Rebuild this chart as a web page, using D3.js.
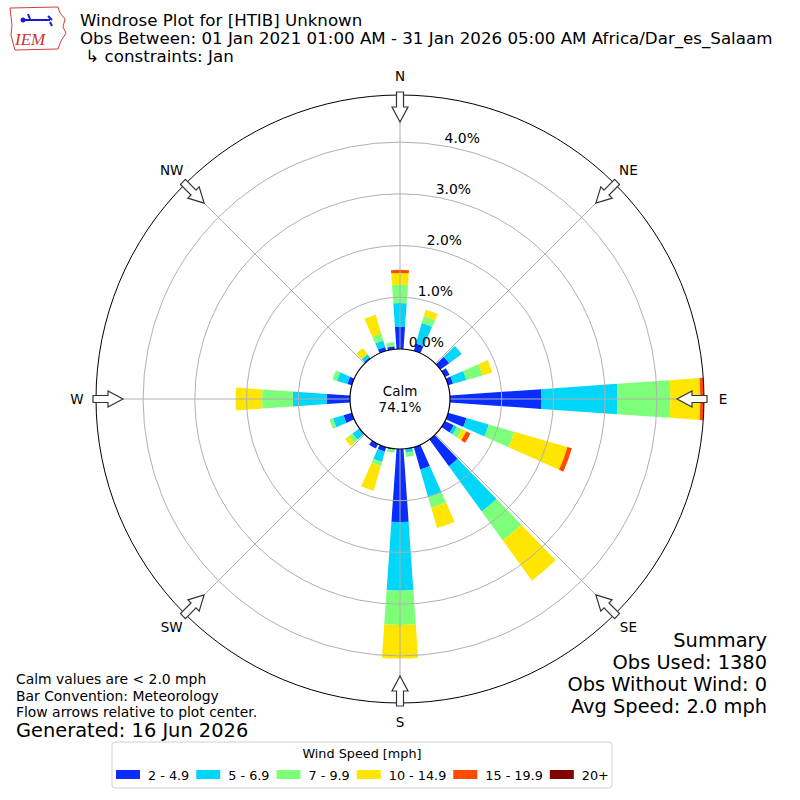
<!DOCTYPE html>
<html>
<head>
<meta charset="utf-8">
<script src="https://cdn.jsdelivr.net/npm/d3@7"></script>
<style>
  body { margin: 0; background: #fff; }
  svg text { font-family: "DejaVu Sans", sans-serif; fill: #000; }
</style>
</head>
<body>
<div id="chart"></div>
<script>
// wind direction bins (degrees, 10 deg steps, only non-empty ones)
const directions = [0, 20, 50, 60, 70, 90, 110, 120, 140, 160, 170, 180, 190, 200, 210, 230, 250, 270, 290, 320, 340, 350];

// percent of observations per speed bin, aligned with directions
const speed2to5   = [0.43, 0.15, 0.21, 0.10, 0.10, 1.77, 0.37, 0.19, 0.64, 0.45, 0.01, 1.41, 0.02, 0.09, 0.10, 0.02, 0.17, 0.45, 0.09, 0.03, 0.08, 0.06];
const speed5to7   = [0.46, 0.41, 0.30, 0.00, 0.27, 1.47, 0.45, 0.07, 1.08, 0.56, 0.07, 1.33, 0.00, 0.21, 0.00, 0.15, 0.21, 0.66, 0.21, 0.07, 0.13, 0.00];
const speed7to10  = [0.35, 0.14, 0.00, 0.00, 0.32, 1.02, 0.51, 0.11, 0.69, 0.21, 0.08, 0.66, 0.06, 0.08, 0.00, 0.09, 0.07, 0.59, 0.09, 0.00, 0.14, 0.08];
const speed10to15 = [0.23, 0.13, 0.00, 0.00, 0.20, 0.58, 1.07, 0.09, 0.96, 0.41, 0.00, 0.65, 0.00, 0.50, 0.00, 0.09, 0.00, 0.51, 0.00, 0.15, 0.38, 0.00];
const speed15to20 = [0.06, 0.00, 0.00, 0.00, 0.00, 0.07, 0.09, 0.09, 0.00, 0.00, 0.00, 0.00, 0.00, 0.00, 0.00, 0.00, 0.00, 0.00, 0.00, 0.00, 0.00, 0.00];
const speed20plus = [0, 0, 0, 0, 0, 0, 0, 0, 0, 0, 0, 0, 0, 0, 0, 0, 0, 0, 0, 0, 0, 0];

const speedLabels = ["2 - 4.9", "5 - 6.9", "7 - 9.9", "10 - 14.9", "15 - 19.9", "20+"];
const speedColors = ["#0a2dff", "#00d5fa", "#7dff7a", "#ffe600", "#ff4a00", "#800000"];
const ringTicks = [0, 1, 2, 3, 4];
const compass = [["N", 0], ["NE", 45], ["E", 90], ["SE", 135], ["S", 180], ["SW", 225], ["W", 270], ["NW", 315]];
const calmPct = 74.1;

const titleLines = [
  "Windrose Plot for [HTIB] Unknown",
  "Obs Between: 01 Jan 2021 01:00 AM - 31 Jan 2026 05:00 AM Africa/Dar_es_Salaam",
  " \u21b3 constraints: Jan"
];
const noteLines = ["Calm values are < 2.0 mph", "Bar Convention: Meteorology", "Flow arrows relative to plot center."];
const summaryLines = ["Summary", "Obs Used: 1380", "Obs Without Wind: 0", "Avg Speed: 2.0 mph"];

const W = 800, H = 800;
const cx = 400, cy = 399;
const calmR = 50, outerR = 304;

const svg = d3.select("#chart").append("svg")
  .attr("width", W).attr("height", H);

const rad = deg => deg * Math.PI / 180;

// stacked rows
const keys = ["s0", "s1", "s2", "s3", "s4", "s5"];
const series = [speed2to5, speed5to7, speed7to10, speed10to15, speed15to20, speed20plus];
const rows = directions.map((d, i) => {
  const row = { dir: d };
  keys.forEach((k, j) => row[k] = series[j][i]);
  return row;
});
const stacked = d3.stack().keys(keys)(rows);
const maxTotal = d3.max(rows, r => d3.sum(keys, k => r[k]));

const rScale = d3.scaleLinear().domain([0, maxTotal]).range([calmR, outerR]);

const plot = svg.append("g").attr("transform", `translate(${cx},${cy})`);

// bars
const halfWidth = 4;
const arc = d3.arc()
  .innerRadius(d => rScale(d[0]))
  .outerRadius(d => rScale(d[1]))
  .startAngle(d => rad(d.data.dir - halfWidth))
  .endAngle(d => rad(d.data.dir + halfWidth));

plot.selectAll("g.layer")
  .data(stacked)
  .enter().append("g")
  .attr("class", "layer")
  .attr("fill", (d, i) => speedColors[i])
  .selectAll("path")
  .data(d => d.filter(s => s[1] - s[0] > 0))
  .enter().append("path")
  .attr("d", arc);

// grid: rings and spokes on top of bars
plot.selectAll("circle.ring")
  .data(ringTicks.filter(t => t > 0))
  .enter().append("circle")
  .attr("class", "ring")
  .attr("r", d => rScale(d))
  .attr("fill", "none")
  .attr("stroke", "#b0b0b0")
  .attr("stroke-width", 1);

plot.selectAll("line.spoke")
  .data(compass)
  .enter().append("line")
  .attr("x1", 0).attr("y1", 0)
  .attr("x2", d => outerR * Math.sin(rad(d[1])))
  .attr("y2", d => -outerR * Math.cos(rad(d[1])))
  .attr("stroke", "#b0b0b0")
  .attr("stroke-width", 1);

// calm circle and outer frame
plot.append("circle").attr("r", calmR)
  .attr("fill", "#fff").attr("stroke", "#000").attr("stroke-width", 1.2);
plot.append("circle").attr("r", outerR)
  .attr("fill", "none").attr("stroke", "#000").attr("stroke-width", 1);

plot.append("text").attr("y", -3).attr("text-anchor", "middle")
  .style("font-size", "13.5px").text("Calm");
plot.append("text").attr("y", 13).attr("text-anchor", "middle")
  .style("font-size", "13.5px").text(`${calmPct.toFixed(1)}%`);

// ring labels
plot.selectAll("text.rlabel")
  .data(ringTicks)
  .enter().append("text")
  .attr("class", "rlabel")
  .attr("x", d => rScale(d) * Math.sin(rad(10)))
  .attr("y", d => -rScale(d) * Math.cos(rad(10)) - 3)
  .style("font-size", "13.9px")
  .text(d => `${d.toFixed(1)}%`);

// flow arrows pointing to the center
const arrowPath = "M0,-277 L-8,-292 L-3.5,-292 L-3.5,-307 L3.5,-307 L3.5,-292 L8,-292 Z";
plot.selectAll("path.arrow")
  .data(compass)
  .enter().append("path")
  .attr("class", "arrow")
  .attr("d", arrowPath)
  .attr("transform", d => `rotate(${d[1]})`)
  .attr("fill", "#fff")
  .attr("stroke", "#333")
  .attr("stroke-width", 1.2);

// compass labels
plot.selectAll("text.compass")
  .data(compass)
  .enter().append("text")
  .attr("class", "compass")
  .attr("x", d => 323 * Math.sin(rad(d[1])))
  .attr("y", d => -323 * Math.cos(rad(d[1])))
  .attr("dy", "0.35em")
  .attr("text-anchor", "middle")
  .style("font-size", "13.5px")
  .text(d => d[0]);

// title
svg.selectAll("text.title")
  .data(titleLines)
  .enter().append("text")
  .attr("x", 80)
  .attr("y", (d, i) => 26 + i * 18)
  .style("font-size", "16.67px")
  .style("white-space", "pre")
  .text(d => d);

// logo
const logo = svg.append("g").attr("transform", "translate(8,5)");
logo.append("path")
  .attr("d", "M2,3 L50,2 L52,8 L57,14 L55,22 L58,28 L53,36 L50,44 L7,45 L5,38 L3,30 L4,20 Z")
  .attr("fill", "#fff").attr("stroke", "#d04040").attr("stroke-width", 1);
logo.append("path")
  .attr("d", "M14,15 L42,15 M20,9 L22,14 M40,11 L44,15 M42,17 L44,21")
  .attr("stroke", "#1a1ad0").attr("stroke-width", 2).attr("fill", "none");
logo.append("circle").attr("cx", 15).attr("cy", 15).attr("r", 2.5).attr("fill", "#1a1ad0");
logo.append("text").attr("x", 7).attr("y", 40)
  .style("font-family", "'Liberation Serif', serif")
  .style("font-style", "italic")
  .style("font-size", "17px")
  .style("fill", "#d03030")
  .text("IEM");

// notes bottom left
svg.selectAll("text.note")
  .data(noteLines)
  .enter().append("text")
  .attr("x", 16)
  .attr("y", (d, i) => 684 + i * 16.5)
  .style("font-size", "13.9px")
  .text(d => d);
svg.append("text").attr("x", 16).attr("y", 737)
  .style("font-size", "19.4px")
  .text("Generated: 16 Jun 2026");

// summary bottom right
svg.selectAll("text.summary")
  .data(summaryLines)
  .enter().append("text")
  .attr("x", 767)
  .attr("y", (d, i) => 647 + i * 22)
  .attr("text-anchor", "end")
  .style("font-size", "19.4px")
  .text(d => d);

// legend
const legend = svg.append("g");
legend.append("rect")
  .attr("x", 112).attr("y", 742).attr("width", 500).attr("height", 46)
  .attr("rx", 3).attr("fill", "#fff").attr("stroke", "#d0d0d0");
legend.append("text").attr("x", 362).attr("y", 758)
  .attr("text-anchor", "middle").style("font-size", "12.8px")
  .text("Wind Speed [mph]");

let lx = 116;
speedLabels.forEach((lab, i) => {
  legend.append("rect").attr("x", lx).attr("y", 770).attr("width", 24).attr("height", 9)
    .attr("fill", speedColors[i]);
  const t = legend.append("text").attr("x", lx + 32).attr("y", 779.5)
    .style("font-size", "12.8px").text(lab);
  lx += 32 + t.node().getComputedTextLength() + 7;
});
</script>
</body>
</html>
